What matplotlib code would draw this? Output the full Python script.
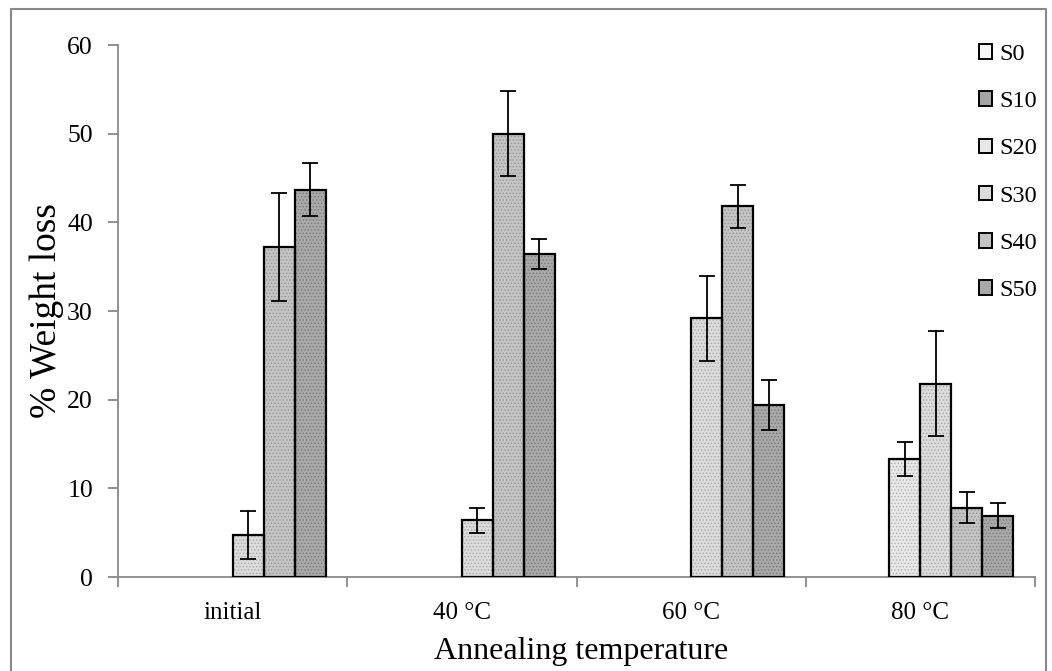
import numpy as np
import matplotlib
matplotlib.use('Agg')
import matplotlib.pyplot as plt
from matplotlib.patches import Patch
from matplotlib.lines import Line2D

categories = ['initial', '40 °C', '60 °C', '80 °C']
series = ['S0', 'S10', 'S20', 'S30', 'S40', 'S50']

# % weight loss per series (0 = no bar)
values = {
    'S0':  [0, 0, 0, 0],
    'S10': [0, 0, 0, 0],
    'S20': [0, 0, 0, 13.3],
    'S30': [4.7, 6.4, 29.2, 21.8],
    'S40': [37.2, 50.0, 41.8, 7.8],
    'S50': [43.7, 36.4, 19.4, 6.9],
}
errors = {
    'S0':  [0, 0, 0, 0],
    'S10': [0, 0, 0, 0],
    'S20': [0, 0, 0, 1.9],
    'S30': [2.7, 1.4, 4.8, 5.9],
    'S40': [6.1, 4.8, 2.4, 1.75],
    'S50': [3.0, 1.7, 2.8, 1.4],
}

fills  = {'S0': '#f6f6f6', 'S10': '#a4a4a4', 'S20': '#e8e8e8',
          'S30': '#dcdcdc', 'S40': '#c4c4c4', 'S50': '#a9a9a9'}
hatchc = {'S0': '#c8c8c8', 'S10': '#6e6e6e', 'S20': '#b0b0b0',
          'S30': '#a8a8a8', 'S40': '#969696', 'S50': '#7a7a7a'}

plt.rcParams['font.family'] = ['Liberation Serif', 'DejaVu Serif']
plt.rcParams['hatch.linewidth'] = 0.6

W, H = 1052, 671
fig = plt.figure(figsize=(W / 100, H / 100), dpi=100)
ax = fig.add_axes([118 / W, 1 - 577 / H, (1035 - 118) / W, (577 - 45) / H])

x = np.arange(len(categories))
bw = 31 / 229
for i, s in enumerate(series):
    v = np.array(values[s], dtype=float)
    e = np.array(errors[s], dtype=float)
    m = v > 0
    if not m.any():
        continue
    xs = x[m] + (i - 2.5) * bw
    ax.bar(xs, v[m], bw, color=fills[s], edgecolor=hatchc[s], hatch='.....',
           linewidth=0, zorder=2)
    ax.bar(xs, v[m], bw, fill=False, edgecolor='black', linewidth=1.6, zorder=3)
    ax.errorbar(xs, v[m], yerr=e[m], fmt='none', ecolor='black', elinewidth=1.3,
                capsize=6, capthick=1.3, zorder=4)

ax.set_xlim(-0.5, 3.5)
ax.set_ylim(0, 60)
ax.set_yticks(range(0, 61, 10))
ax.set_xticks(x)
ax.set_xticklabels(categories, fontsize=18)
ax.set_xticks(np.arange(-0.5, 3.6, 1), minor=True)
ax.tick_params(axis='x', which='major', length=0, pad=18)
ax.tick_params(axis='x', which='minor', length=7, color='#888888', width=1.3)
ax.tick_params(axis='y', length=7, color='#888888', width=1.3, labelsize=18.5, pad=11)
for sp in ['top', 'right']:
    ax.spines[sp].set_visible(False)
for sp in ['left', 'bottom']:
    ax.spines[sp].set_color('#888888')
    ax.spines[sp].set_linewidth(1.3)

fig.text(47 / W, 1 - 311 / H, '% Weight loss', rotation=90, fontsize=27,
         ha='center', va='center')
fig.text(581 / W, 1 - 651 / H, 'Annealing temperature', fontsize=23,
         ha='center', va='center')

handles = [Patch(facecolor=fills[s], edgecolor='black', linewidth=1.4) for s in series]
leg = fig.legend(handles, series, loc='upper left', bbox_to_anchor=(979 / W, 1 - 44 / H),
                 frameon=False, fontsize=17.5, handlelength=0.55, handleheight=0.55,
                 handletextpad=0.3, labelspacing=1.08, borderpad=0, borderaxespad=0)

# chart area border
fig.add_artist(Line2D([11 / W, 11 / W, 1046 / W, 1046 / W],
                      [0, 1 - 9 / H, 1 - 9 / H, 0], color='#888888', linewidth=1.5))

fig.savefig('out.png', dpi=100)
